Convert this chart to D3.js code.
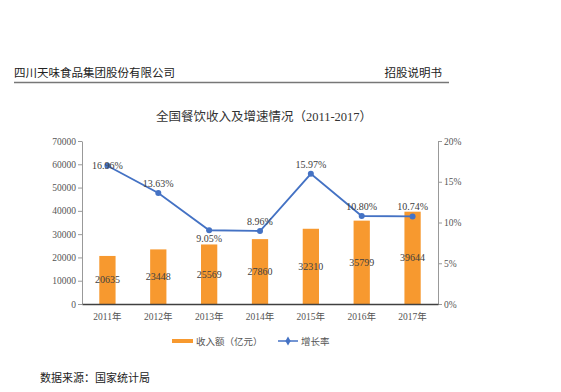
<!DOCTYPE html>
<html>
<head>
<meta charset="utf-8">
<script src="https://cdn.jsdelivr.net/npm/d3@7"></script>
<style>
  body { margin: 0; background: #fff; }
  text { font-family: "Liberation Serif", "Noto Sans CJK SC", serif; }
</style>
</head>
<body>
<div id="viz_chart"></div>
<script>
// chart data
var years = ['2011年', '2012年', '2013年', '2014年', '2015年', '2016年', '2017年'];
var revenue = [20635, 23448, 25569, 27860, 32310, 35799, 39644];
var growth = [16.96, 13.63, 9.05, 8.96, 15.97, 10.80, 10.74];
var leftTicks = [0, 10000, 20000, 30000, 40000, 50000, 60000, 70000];
var rightTicks = [0, 5, 10, 15, 20];

var width_svg = 561, height_svg = 392;
var margin = {left: 82, right: 123, top: 141, bottom: 88};
var plotW = width_svg - margin.left - margin.right;
var plotH = height_svg - margin.top - margin.bottom;

var svg = d3.select('#viz_chart')
    .append('svg')
    .attr('width', width_svg)
    .attr('height', height_svg);

// page header
svg.append('text')
    .attr('x', 14).attr('y', 77)
    .text('四川天味食品集团股份有限公司')
    .style('font-size', '11.5px').style('fill', '#222');
svg.append('text')
    .attr('x', 442).attr('y', 77)
    .attr('text-anchor', 'end')
    .text('招股说明书')
    .style('font-size', '11.5px').style('fill', '#222');
svg.append('line')
    .attr('x1', 14).attr('x2', 449)
    .attr('y1', 82.5).attr('y2', 82.5)
    .attr('stroke', '#777').attr('stroke-width', 1.5);

// title
svg.append('text')
    .attr('x', 264).attr('y', 121)
    .attr('text-anchor', 'middle')
    .text('全国餐饮收入及增速情况（2011-2017）')
    .style('font-size', '12.5px').style('fill', '#333');

var x = d3.scaleBand().domain(years).range([0, plotW]).paddingInner(0.68).paddingOuter(0.34);
var yL = d3.scaleLinear().domain([0, 70000]).range([plotH, 0]);
var yR = d3.scaleLinear().domain([0, 20]).range([plotH, 0]);

var g = svg.append('g').attr('transform', 'translate(' + margin.left + ',' + margin.top + ')');

// axes
var axisL = g.append('g')
    .call(d3.axisLeft(yL).tickValues(leftTicks).tickSize(4).tickSizeOuter(0).tickFormat(d3.format('d')));
var axisR = g.append('g')
    .attr('transform', 'translate(' + plotW + ',0)')
    .call(d3.axisRight(yR).tickValues(rightTicks).tickSize(4).tickSizeOuter(0).tickFormat(function(d) { return d + '%'; }));
[axisL, axisR].forEach(function(a) {
    a.select('.domain').attr('stroke', '#999');
    a.selectAll('.tick line').attr('stroke', '#999');
    a.selectAll('.tick text')
        .style('font-size', '9.5px')
        .style('fill', '#555')
        .style('font-family', '"Liberation Serif", serif');
});
axisL.selectAll('.tick text').attr('x', -6);
axisR.selectAll('.tick text').attr('x', 6);

// bars
g.selectAll('rect.bar')
    .data(revenue)
    .enter()
    .append('rect')
    .attr('class', 'bar')
    .attr('x', function(d, i) { return x(years[i]); })
    .attr('y', function(d) { return yL(d); })
    .attr('width', x.bandwidth())
    .attr('height', function(d) { return plotH - yL(d); })
    .style('fill', '#F7992F');

// bar value labels
g.selectAll('text.barlabel')
    .data(revenue)
    .enter()
    .append('text')
    .attr('class', 'barlabel')
    .attr('x', function(d, i) { return x(years[i]) + x.bandwidth() / 2; })
    .attr('y', function(d) { return (yL(d) + plotH) / 2 + 3.5; })
    .attr('text-anchor', 'middle')
    .text(function(d) { return d; })
    .style('font-size', '10px')
    .style('fill', '#404040');

// x axis
var axisB = g.append('g')
    .attr('transform', 'translate(0,' + plotH + ')')
    .call(d3.axisBottom(x).tickSize(0).tickPadding(9));
axisB.select('.domain').attr('stroke', '#404040').attr('stroke-width', 1.3);
axisB.selectAll('.tick text')
    .style('font-size', '9.5px')
    .style('fill', '#555');

// growth line
var cx = function(i) { return x(years[i]) + x.bandwidth() / 2; };
var line = d3.line()
    .x(function(d, i) { return cx(i); })
    .y(function(d) { return yR(d); });
g.append('path')
    .datum(growth)
    .attr('d', line)
    .attr('fill', 'none')
    .attr('stroke', '#4472C4')
    .attr('stroke-width', 1.8);

g.selectAll('circle.marker')
    .data(growth)
    .enter()
    .append('circle')
    .attr('class', 'marker')
    .attr('cx', function(d, i) { return cx(i); })
    .attr('cy', function(d) { return yR(d); })
    .attr('r', 3)
    .style('fill', '#4472C4');

// growth labels; the 2013 one sits under the point, the first one on it
g.selectAll('text.pct')
    .data(growth)
    .enter()
    .append('text')
    .attr('class', 'pct')
    .attr('x', function(d, i) { return cx(i); })
    .attr('y', function(d, i) {
        if (i === 0) return yR(d) + 3;
        if (i === 2) return yR(d) + 12;
        return yR(d) - 6;
    })
    .attr('text-anchor', 'middle')
    .text(function(d) { return d.toFixed(2) + '%'; })
    .style('font-size', '10px')
    .style('fill', '#404040');

// legend
var legend = svg.append('g').attr('transform', 'translate(172,341)');
legend.append('rect')
    .attr('x', 0).attr('y', -2)
    .attr('width', 21).attr('height', 4)
    .style('fill', '#F7992F');
legend.append('text')
    .attr('x', 24).attr('y', 3.5)
    .text('收入额（亿元）')
    .style('font-size', '9.5px').style('fill', '#555');
legend.append('line')
    .attr('x1', 106).attr('x2', 126)
    .attr('y1', 0).attr('y2', 0)
    .attr('stroke', '#4472C4').attr('stroke-width', 1.5);
legend.append('path')
    .attr('d', d3.symbol().type(d3.symbolDiamond).size(24))
    .attr('transform', 'translate(116,0)')
    .style('fill', '#4472C4');
legend.append('text')
    .attr('x', 129).attr('y', 3.5)
    .text('增长率')
    .style('font-size', '9.5px').style('fill', '#555');

// source note
svg.append('text')
    .attr('x', 40).attr('y', 382)
    .text('数据来源：国家统计局')
    .style('font-size', '11px').style('fill', '#222');
</script>
</body>
</html>
